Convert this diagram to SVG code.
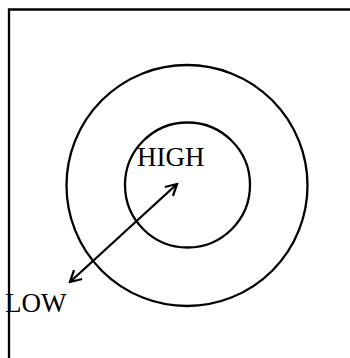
<svg xmlns="http://www.w3.org/2000/svg" width="350" height="358" viewBox="0 0 350 358">
<style>
.s{fill:none;stroke:#000;stroke-width:2.3}
.t{font-family:"Liberation Serif",serif;font-size:27px;fill:#000}
</style>
<defs>
<marker id="ah" viewBox="0 0 14 14" refX="12" refY="7" markerWidth="14" markerHeight="14" markerUnits="userSpaceOnUse" orient="auto-start-reverse">
<path d="M1,1 L12,7 L1,13" fill="none" stroke="#000" stroke-width="2.3"/>
</marker>
</defs>
<rect width="350" height="358" fill="#fff"/>
<g id="frame">
<path class="s" d="M9,358 V9.5 H350"/>
</g>
<g id="outer">
<circle class="s" cx="187" cy="185.5" r="120.5"/>
</g>
<g id="inner">
<circle class="s" cx="187.5" cy="185" r="62.5"/>
</g>
<g id="connectors">
<line class="s" x1="70" y1="282" x2="177" y2="184" marker-start="url(#ah)" marker-end="url(#ah)"/>
</g>
<g id="high">
<text class="t" x="137" y="165.5">HIGH</text>
</g>
<g id="low">
<text class="t" x="5" y="311.5">LOW</text>
</g>
</svg>
